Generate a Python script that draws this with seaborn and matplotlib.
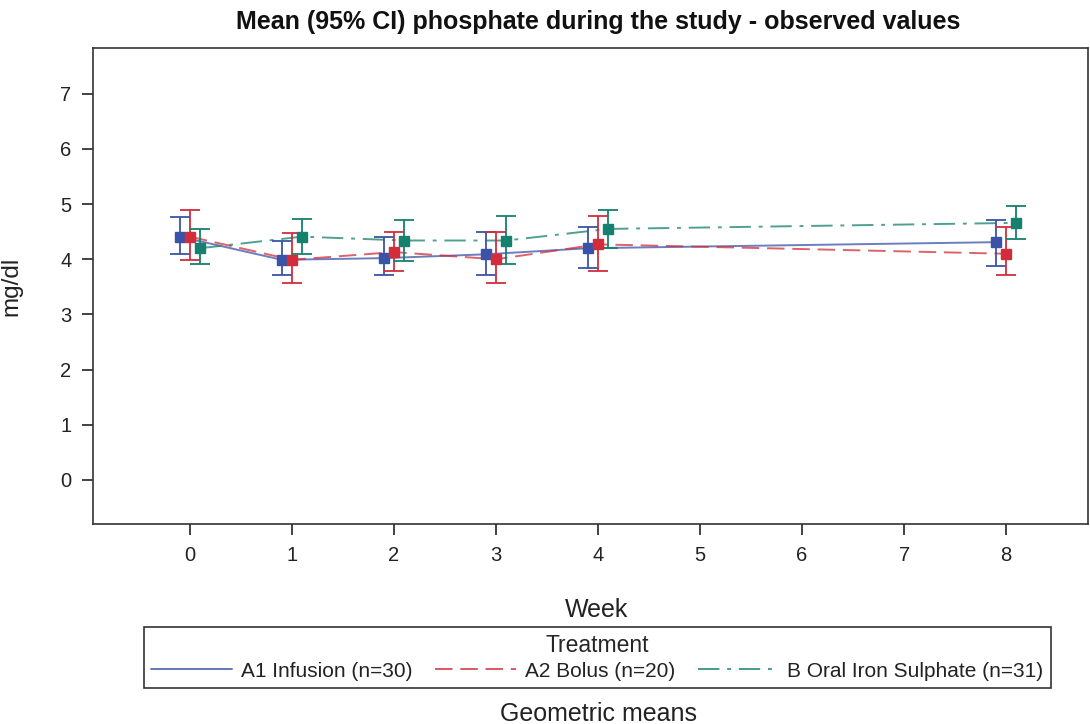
import numpy as np
import pandas as pd
import seaborn as sns
import matplotlib.pyplot as plt
from matplotlib.lines import Line2D

# Observed geometric means with 95% CI
weeks = [0, 1, 2, 3, 4, 8]
treatments = ['A1 Infusion (n=30)', 'A2 Bolus (n=20)', 'B Oral Iron Sulphate (n=31)']

a1_mean = [4.41, 3.99, 4.02, 4.09, 4.20, 4.31]
a1_low = [4.10, 3.71, 3.71, 3.71, 3.85, 3.88]
a1_high = [4.76, 4.33, 4.40, 4.50, 4.58, 4.72]

a2_mean = [4.41, 3.99, 4.13, 4.00, 4.27, 4.10]
a2_low = [3.99, 3.57, 3.79, 3.57, 3.79, 3.71]
a2_high = [4.90, 4.47, 4.50, 4.50, 4.79, 4.58]

b_mean = [4.20, 4.41, 4.34, 4.34, 4.55, 4.66]
b_low = [3.92, 4.10, 3.96, 3.92, 4.20, 4.37]
b_high = [4.55, 4.73, 4.72, 4.79, 4.90, 4.97]

colors = ['#3B53A6', '#D12D3B', '#16806E']
offsets = [-0.1, 0.0, 0.1]

rows = []
for trt, m, lo, hi, off in zip(treatments,
                               [a1_mean, a2_mean, b_mean],
                               [a1_low, a2_low, b_low],
                               [a1_high, a2_high, b_high],
                               offsets):
    for w, mm, l, h in zip(weeks, m, lo, hi):
        rows.append({'Treatment': trt, 'week': w + off, 'mean': mm, 'low': l, 'high': h})
df = pd.DataFrame(rows)

sns.set_style('ticks')
plt.rcParams['font.family'] = ['Liberation Sans', 'DejaVu Sans']

fig = plt.figure(figsize=(10.9, 7.24), dpi=100)
ax = fig.add_axes([0.0853, 0.2762, 0.9127, 0.6575])

palette = dict(zip(treatments, colors))
dashes = {treatments[0]: '', treatments[1]: (9, 4), treatments[2]: (11, 4, 2, 4)}
sns.lineplot(data=df, x='week', y='mean', hue='Treatment', style='Treatment',
             palette=palette, dashes=dashes, linewidth=1.4, alpha=0.75,
             legend=False, ax=ax, zorder=2)

for trt, c in zip(treatments, colors):
    d = df[df['Treatment'] == trt]
    ax.errorbar(d['week'], d['mean'],
                yerr=[d['mean'] - d['low'], d['high'] - d['mean']],
                fmt='s', color=c, markersize=6.5, capsize=7, elinewidth=1.3,
                capthick=1.3, zorder=3)

ax.set_xlim(-0.95, 8.8)
ax.set_ylim(-0.8, 7.83)
ax.set_xticks(range(0, 9))
ax.set_yticks(range(0, 8))
ax.tick_params(labelsize=14.5, colors='#222222', length=8, pad=7.5, width=1.2)
for s in ax.spines.values():
    s.set_visible(True)
    s.set_color('#333333')
    s.set_linewidth(1.2)

ax.set_xlabel('Week', fontsize=18, color='#222222')
ax.set_ylabel('mg/dl', fontsize=17.5, color='#222222')
ax.xaxis.set_label_coords(0.5065, -0.155)
ax.yaxis.set_label_coords(-0.0714, 0.5)

fig.text(0.549, 0.9696, 'Mean (95% CI) phosphate during the study - observed values',
         ha='center', va='center', fontsize=18, fontweight='bold', color='#111111')

handles = [Line2D([0], [0], color=c, lw=1.4, alpha=0.8, linestyle=ls)
           for c, ls in zip(colors, ['-', (0, (9, 4)), (0, (11, 4, 2, 4))])]
leg = fig.legend(handles, treatments, title='Treatment', ncol=3,
                 loc='center', bbox_to_anchor=(0.548, 0.0919),
                 fontsize=15, title_fontsize=16.5,
                 frameon=True, fancybox=False, edgecolor='black',
                 handlelength=3.9, handletextpad=0.4, borderpad=0.35,
                 labelspacing=0.2, columnspacing=1.1, borderaxespad=0)
leg.get_frame().set_linewidth(1.2)
for t in leg.get_texts():
    t.set_color('#222222')

fig.text(0.549, 0.0138, 'Geometric means', ha='center', va='center',
         fontsize=18, color='#222222')

plt.savefig('out.png', dpi=100)
